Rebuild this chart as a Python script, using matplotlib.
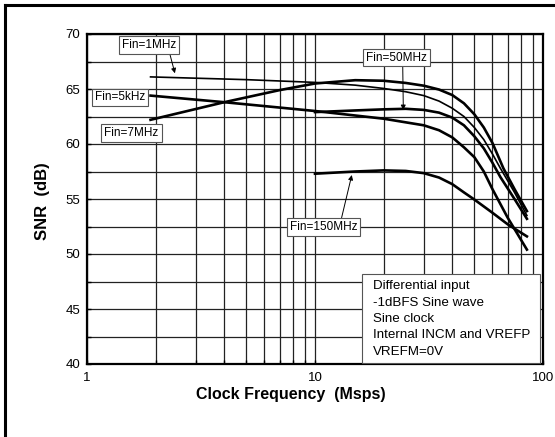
import matplotlib
matplotlib.use("Agg")
import matplotlib.pyplot as plt
from matplotlib.patches import Rectangle
from matplotlib.lines import Line2D

plt.rcParams['font.family'] = ['Liberation Sans', 'DejaVu Sans']

# =============================================================================
# data (clock freq in Msps, SNR in dB)
# =============================================================================
f_5k = [1.9, 4, 10, 20, 30, 35, 40, 45, 50, 55, 60, 70, 85]
snr_5k = [64.4, 63.8, 63.0, 62.3, 61.7, 61.25, 60.6, 59.7, 58.8, 57.5, 55.9, 53.3, 50.4]

f_1m = [1.9, 5, 10, 15, 20, 25, 30, 35, 40, 45, 50, 55, 60, 65, 75, 85]
snr_1m = [66.1, 65.85, 65.6, 65.35, 65.05, 64.75, 64.4, 63.9, 63.25, 62.5, 61.5, 60.4, 59.1, 57.8, 55.6, 53.5]

f_7m = [1.9, 4, 7, 10, 15, 20, 25, 30, 35, 40, 45, 50, 55, 60, 67, 75, 85]
snr_7m = [62.2, 63.8, 64.9, 65.5, 65.8, 65.75, 65.55, 65.3, 64.95, 64.45, 63.7, 62.7, 61.5, 60.1, 57.8, 55.9, 53.9]

f_50m = [10, 15, 20, 25, 30, 35, 40, 45, 50, 55, 60, 65, 75, 85]
snr_50m = [62.9, 63.05, 63.15, 63.2, 63.1, 62.85, 62.4, 61.7, 60.7, 59.6, 58.3, 57.0, 55.0, 53.2]

f_150m = [10, 15, 20, 25, 30, 35, 40, 45, 50, 60, 70, 85]
snr_150m = [57.3, 57.5, 57.6, 57.55, 57.35, 56.95, 56.35, 55.6, 54.95, 53.75, 52.7, 51.6]

notes = ["Differential input", "-1dBFS Sine wave", "Sine clock",
         "Internal INCM and VREFP", "VREFM=0V"]

# =============================================================================
# plot
# =============================================================================
fig = plt.figure(figsize=(5.55, 4.37), dpi=100)
ax = fig.add_axes([87/555, 1-364/437, 456/555, 330/437])

thick = 1.9
ax.plot(f_5k, snr_5k, color='black', lw=thick, zorder=3)
ax.plot(f_1m, snr_1m, color='black', lw=1.2, zorder=3)
ax.plot(f_7m, snr_7m, color='black', lw=thick, zorder=3)
ax.plot(f_50m, snr_50m, color='black', lw=thick, zorder=3)
ax.plot(f_150m, snr_150m, color='black', lw=thick, zorder=3)

ax.set_xscale('log')
ax.set_xlim(1, 100)
ax.set_ylim(40, 70)
ax.set_xticks([1, 10, 100])
ax.set_xticklabels(['1', '10', '100'])
ax.set_yticks([40, 45, 50, 55, 60, 65, 70])
ax.set_yticks([42.5, 47.5, 52.5, 57.5, 62.5, 67.5], minor=True)
ax.grid(True, which='both', color='#222222', lw=0.9)
ax.set_axisbelow(True)
ax.tick_params(which='both', direction='in', length=3, width=1, labelsize=9.5)
ax.tick_params(axis='x', pad=6)
ax.tick_params(axis='y', pad=5)
for s in ax.spines.values():
    s.set_linewidth(1.6)

box = dict(boxstyle='square,pad=0.25', fc='white', ec='#555555', lw=0.8)
arr = dict(arrowstyle='-|>', color='black', lw=0.7, mutation_scale=7, shrinkA=0, shrinkB=0)

ax.annotate('Fin=1MHz', xy=(2.43, 66.43), xytext=(1.87, 69.0), ha='center', va='center',
            fontsize=8.5, bbox=box, zorder=5,
            arrowprops=dict(arr, relpos=(0.87, 0)))
ax.text(1.395, 64.23, 'Fin=5kHz', ha='center', va='center', fontsize=8.5, bbox=box, zorder=5)
ax.text(1.567, 61.03, 'Fin=7MHz', ha='center', va='center', fontsize=8.5, bbox=box, zorder=5)
ax.annotate('Fin=50MHz', xy=(24.4, 63.09), xytext=(22.8, 67.86), ha='center', va='center',
            fontsize=8.5, bbox=box, zorder=5,
            arrowprops=dict(arr, relpos=(0.6, 0)))
ax.annotate('Fin=150MHz', xy=(14.5, 57.18), xytext=(10.87, 52.45), ha='center', va='center',
            fontsize=8.5, bbox=box, zorder=5,
            arrowprops=dict(arr, relpos=(0.76, 1)))

# condition box
ax.add_patch(Rectangle((0.6024, 0.004), 0.391, 0.2687, transform=ax.transAxes,
                       fc='white', ec='#555555', lw=0.8, zorder=6))
for i, t in enumerate(notes):
    ypx = 286 + 16.5*i
    ax.text((372.7-87)/456, (364-ypx)/330, t, transform=ax.transAxes,
            ha='left', va='center', fontsize=9.6, zorder=7)

fig.text(291/555, 1-395/437, 'Clock Frequency  (Msps)', ha='center', va='center',
         fontsize=11.5, fontweight='bold')
fig.text(43/555, 1-201/437, 'SNR  (dB)', ha='center', va='center', rotation=90,
         fontsize=12, fontweight='bold')

# frame lines on left and top of the figure
fig.add_artist(Line2D([5/555, 5/555], [0, 1-5/437], transform=fig.transFigure, color='black', lw=2.2))
fig.add_artist(Line2D([5/555, 1], [1-5/437, 1-5/437], transform=fig.transFigure, color='black', lw=2.2))

fig.savefig('out.png', dpi=100)
